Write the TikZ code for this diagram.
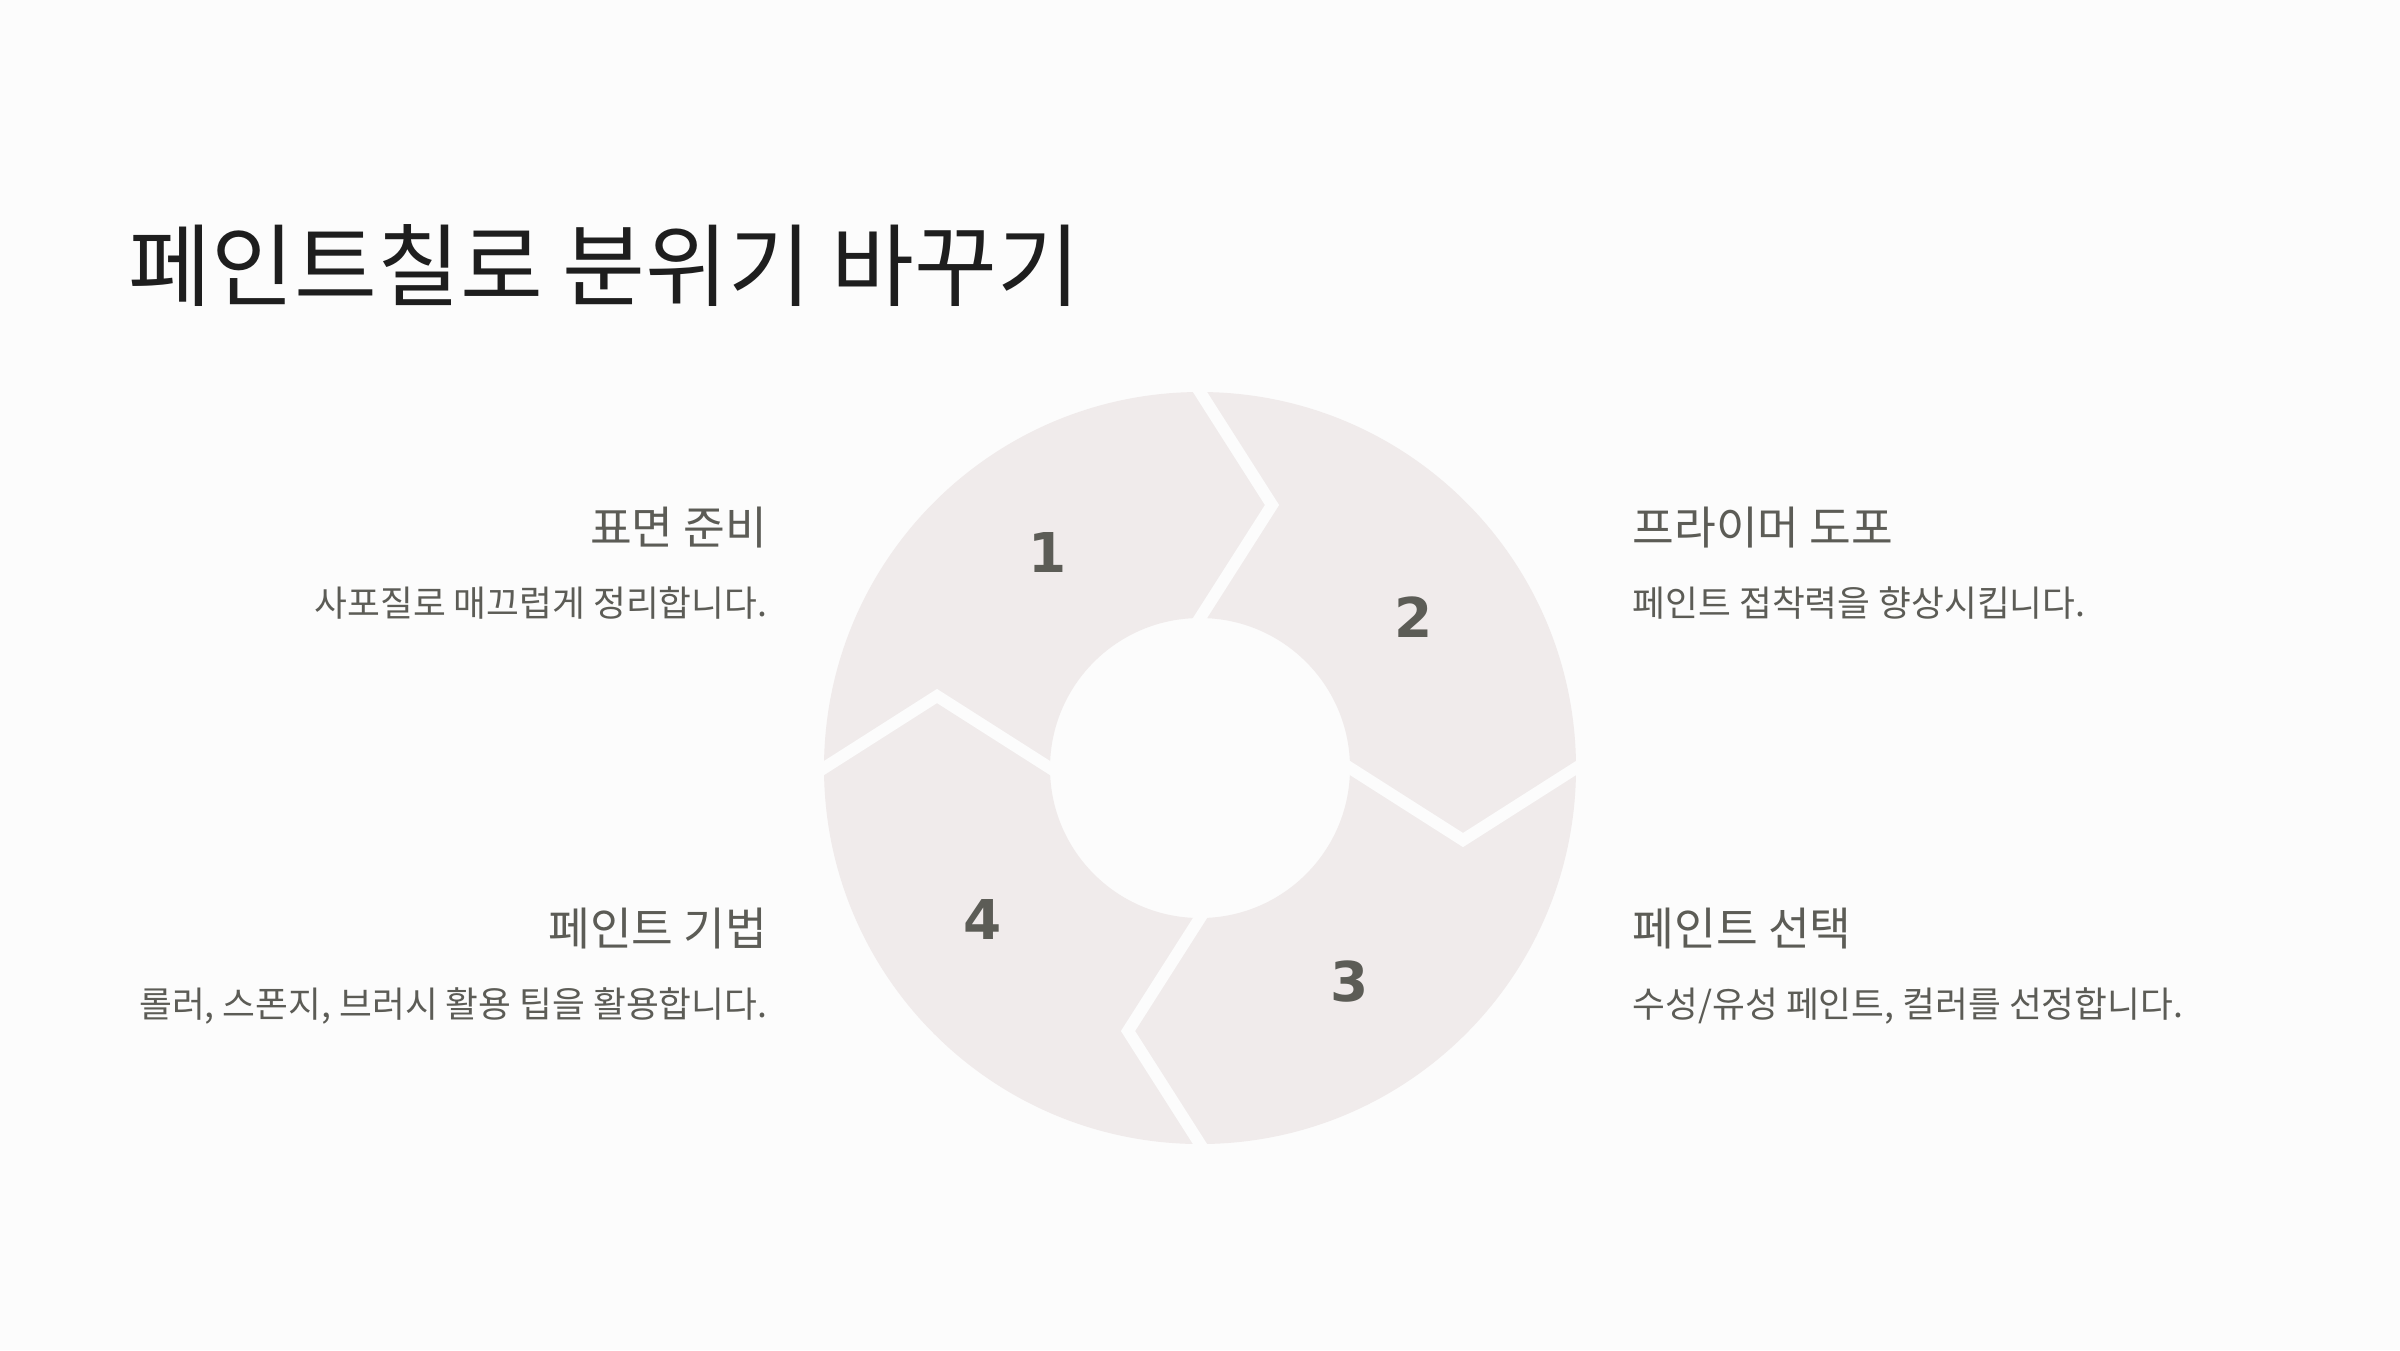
\documentclass[tikz,border=0pt]{standalone}
\usepackage{fontspec}
\newfontfamily\kr{Noto Sans CJK KR}
\newfontfamily\numfont{DejaVu Sans}
\usetikzlibrary{calc}
\definecolor{bg}{HTML}{FCFCFC}
\definecolor{seg}{HTML}{F0EBEB}
\definecolor{ttl}{HTML}{1E1E1E}
\definecolor{txt}{HTML}{5C5C56}
\begin{document}
\begin{tikzpicture}[x=0.01cm,y=-0.01cm,
  titlestyle/.style={font=\kr\fontsize{25.6}{30}\selectfont, text=ttl, inner sep=0, anchor=base west},
  head/.style={font=\kr\fontsize{12.9}{15}\selectfont, text=txt, inner sep=0},
  desc/.style={font=\kr\fontsize{10.15}{12}\selectfont, text=txt, inner sep=0},
  num/.style={font=\numfont\bfseries\fontsize{15.6}{18}\selectfont, text=txt, inner sep=0},
  gap/.style={draw=bg, line width=3.4pt, miter limit=10, line join=miter}]
\fill[bg] (0,0) rectangle (2400,1350);
\useasboundingbox (0,0) rectangle (2400,1350);
\coordinate (c) at (1200,768);
\fill[seg, even odd rule] (c) circle[radius=376] (c) circle[radius=150];
% chevron gaps
\coordinate (o1) at (1200,392);  \coordinate (t1) at (1272,505);  \coordinate (i1) at (1200,618);
\coordinate (o2) at (1576,768);  \coordinate (t2) at (1463,840);  \coordinate (i2) at (1350,768);
\coordinate (o3) at (1200,1144); \coordinate (t3) at (1128,1031); \coordinate (i3) at (1200,918);
\coordinate (o4) at (824,768);   \coordinate (t4) at (937,696);   \coordinate (i4) at (1050,768);
\foreach \k in {1,2,3,4}{
  \draw[gap] ($(t\k)!1.15!(o\k)$) -- (t\k) -- ($(t\k)!1.15!(i\k)$);
}
% numbers
\node[num] (n1) at (1048,552) {1};
\node[num] (n2) at (1414,617) {2};
\node[num] (n3) at (1350,982) {3};
\node[num] (n4) at (983,919) {4};
% title
\node[titlestyle] (title) at (128,299) {페인트칠로 분위기 바꾸기};
% labels
\node[head, anchor=base east] (h1) at (768,544) {표면 준비};
\node[desc, anchor=base east] (d1) at (768,616) {사포질로 매끄럽게 정리합니다.};
\node[head, anchor=base west] (h2) at (1632,544) {프라이머 도포};
\node[desc, anchor=base west] (d2) at (1632,616) {페인트 접착력을 향상시킵니다.};
\node[head, anchor=base east] (h4) at (768,945) {페인트 기법};
\node[desc, anchor=base east] (d4) at (768,1017) {롤러, 스폰지, 브러시 활용 팁을 활용합니다.};
\node[head, anchor=base west] (h3) at (1632,945) {페인트 선택};
\node[desc, anchor=base west] (d3) at (1632,1017) {수성/유성 페인트, 컬러를 선정합니다.};
\end{tikzpicture}
\end{document}
